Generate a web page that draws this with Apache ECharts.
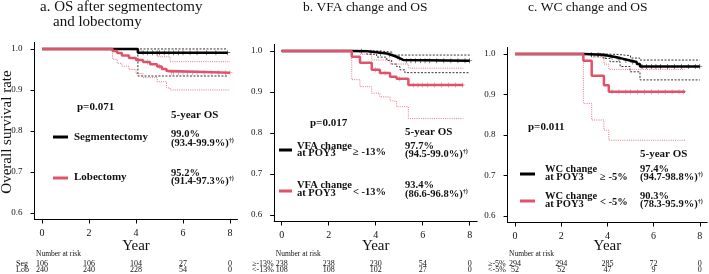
<!DOCTYPE html>
<html>
<head>
<meta charset="utf-8">
<script src="https://cdn.jsdelivr.net/npm/echarts@6/dist/echarts.min.js"></script>
<style>
html, body { margin: 0; padding: 0; background: #fff; }
#main { width: 709px; height: 274px; }
</style>
</head>
<body>
<div id="main"></div>
<script>
var xTicks = [0, 2, 4, 6, 8];
var yTicks = [0.6, 0.7, 0.8, 0.9, 1.0];
var riskYears = [0, 2, 4, 6, 8];

// a. segmentectomy vs lobectomy
var segTime = [0, 4.08, 7.9];
var segSurv = [1, 0.991, 0.991];
var segUpTime = [0, 7.9];
var segUpVal = [1, 1];
var segLoTime = [0, 4.08, 7.9];
var segLoVal = [1, 0.934, 0.934];
var segCens = [4.3, 4.5, 4.7, 4.9, 5.0, 5.2, 5.4, 5.6, 5.8, 6.0, 6.3, 6.6, 7.0, 7.4, 7.9];

var lobTime = [0, 3.0, 3.2, 3.4, 3.7, 4.0, 4.3, 4.6, 4.9, 5.1, 5.3, 5.45, 8.0];
var lobSurv = [1, 0.995, 0.99, 0.984, 0.978, 0.973, 0.968, 0.963, 0.957, 0.951, 0.946, 0.942, 0.942];
var lobUpTime = [0, 3.4, 3.9, 4.3, 4.9, 5.45, 8.0];
var lobUpVal = [1, 0.998, 0.994, 0.989, 0.981, 0.969, 0.969];
var lobLoTime = [0, 3.0, 3.2, 3.4, 3.7, 4.0, 4.3, 4.9, 5.3, 5.45, 8.0];
var lobLoVal = [1, 0.975, 0.965, 0.958, 0.95, 0.94, 0.93, 0.92, 0.905, 0.9, 0.9];
var lobCens = [4.1, 4.5, 5.0, 5.5, 5.6, 5.8, 6.0, 6.2, 6.4, 6.6, 6.9, 7.2, 7.5, 7.8, 8.0];

var segRisk = [106, 106, 104, 27, 0];
var lobRisk = [240, 240, 228, 54, 0];

// b. VFA change
var vfaHiTime = [0, 3.0, 3.69, 4.04, 4.47, 4.68, 4.89, 5.03, 5.17, 8.0];
var vfaHiSurv = [1, 0.999, 0.997, 0.994, 0.99, 0.986, 0.982, 0.978, 0.976, 0.976];
var vfaHiUpTime = [0, 4.2, 4.7, 8.0];
var vfaHiUpVal = [1, 0.997, 0.99, 0.99];
var vfaHiLoTime = [0, 3.62, 4.04, 4.47, 4.68, 4.89, 5.03, 5.24, 8.0];
var vfaHiLoVal = [1, 0.992, 0.985, 0.977, 0.968, 0.962, 0.954, 0.947, 0.947];
var vfaHiCens = [3.4, 3.8, 4.2, 4.6, 5.0, 5.3, 5.5, 5.7, 5.9, 6.1, 6.3, 6.6, 6.9, 7.2, 7.5, 7.8, 8.0];

var vfaLoTime = [0, 2.98, 3.33, 3.83, 4.18, 4.61, 4.89, 5.39, 7.73];
var vfaLoSurv = [1, 0.986, 0.971, 0.954, 0.946, 0.937, 0.932, 0.917, 0.917];
var vfaLoUpTime = [0, 3.33, 3.83, 4.61, 5.39, 7.73];
var vfaLoUpVal = [1, 0.992, 0.978, 0.968, 0.958, 0.958];
var vfaLoLoTime = [0, 2.98, 3.33, 3.83, 4.18, 4.61, 4.89, 5.39, 7.73];
var vfaLoLoVal = [1, 0.93, 0.913, 0.897, 0.888, 0.878, 0.864, 0.835, 0.835];
var vfaLoCens = [4.0, 4.4, 5.0, 5.6, 5.8, 6.0, 6.2, 6.5, 6.8, 7.1, 7.4, 7.7];

var vfaHiRisk = [238, 238, 230, 54, 0];
var vfaLoRisk = [108, 108, 102, 27, 0];

// c. WC change
var wcHiTime = [0, 3.0, 3.53, 3.82, 4.11, 4.4, 4.69, 4.98, 5.27, 5.41, 8.0];
var wcHiSurv = [1, 0.999, 0.998, 0.995, 0.992, 0.988, 0.984, 0.98, 0.975, 0.969, 0.969];
var wcHiUpTime = [0, 3.8, 4.4, 5.0, 5.4, 8.0];
var wcHiUpVal = [1, 0.999, 0.996, 0.99, 0.985, 0.985];
var wcHiLoTime = [0, 3.3, 3.82, 4.11, 4.55, 4.98, 5.41, 8.0];
var wcHiLoVal = [1, 0.995, 0.989, 0.981, 0.969, 0.956, 0.936, 0.936];
var wcHiCens = [3.3, 3.6, 3.9, 4.2, 4.5, 4.8, 5.1, 5.5, 5.7, 5.9, 6.1, 6.3, 6.6, 6.9, 7.2, 7.5, 7.8, 8.0];

var wcLoTime = [0, 2.96, 3.32, 3.85, 4.06, 7.36];
var wcLoSurv = [1, 0.983, 0.946, 0.923, 0.907, 0.907];
var wcLoUpTime = [0, 3.32, 3.85, 4.06, 7.36];
var wcLoUpVal = [1, 0.992, 0.975, 0.962, 0.962];
var wcLoLoTime = [0, 2.96, 3.32, 3.85, 4.06, 7.36];
var wcLoLoVal = [1, 0.878, 0.837, 0.812, 0.787, 0.787];
var wcLoCens = [4.2, 4.5, 4.8, 5.0, 5.3, 5.6, 5.9, 6.2, 6.5, 6.8, 7.1, 7.3];

var wcHiRisk = [294, 294, 285, 72, 0];
var wcLoRisk = [52, 52, 47, 9, 0];

var RED = '#DF536B';
var FONT = '"Liberation Serif", "DejaVu Serif", serif';
var PLUS = 'path://M4.4,0H5.6V4.4H10V5.6H5.6V10H4.4V5.6H0V4.4H4.4Z';

var grids = [
    {left: 34.5, top: 42.4, width: 203, height: 177.1},
    {left: 274.2, top: 44.4, width: 203, height: 177.1},
    {left: 507.6, top: 47.5, width: 199.6, height: 175}
];

function survAt(times, vals, t) {
    var v = vals[0];
    for (let i = 0; i < times.length; i++) {
        if (times[i] <= t) v = vals[i];
    }
    return v;
}

function stepLine(gi, times, vals, color, width, type, z) {
    return {
        type: 'line', xAxisIndex: gi, yAxisIndex: gi, step: 'end', symbol: 'none',
        silent: true, z: z,
        data: times.map((t, i) => [t, vals[i]]),
        lineStyle: {color: color, width: width, type: type}
    };
}

function censor(gi, cens, times, vals, color, z) {
    return {
        type: 'scatter', xAxisIndex: gi, yAxisIndex: gi, symbol: PLUS, symbolSize: 5,
        silent: true, z: z,
        data: cens.map(t => [t, survAt(times, vals, t)]),
        itemStyle: {color: color}
    };
}

function panelSeries(gi, hi, lo) {
    // hi = black group, lo = red group
    return [
        stepLine(gi, hi.upT, hi.upV, '#000', 0.8, [2, 1.5], 2),
        stepLine(gi, hi.loT, hi.loV, '#000', 0.8, [2, 1.5], 2),
        stepLine(gi, lo.upT, lo.upV, RED, 0.8, [1, 1.2], 2),
        stepLine(gi, lo.loT, lo.loV, RED, 0.8, [1, 1.2], 2),
        stepLine(gi, hi.t, hi.s, '#000', 2.5, 'solid', 3),
        censor(gi, hi.c, hi.t, hi.s, '#000', 4),
        stepLine(gi, lo.t, lo.s, RED, 2.5, 'solid', 5),
        censor(gi, lo.c, lo.t, lo.s, RED, 6)
    ];
}

var series = [].concat(
    panelSeries(0,
        {t: segTime, s: segSurv, upT: segUpTime, upV: segUpVal, loT: segLoTime, loV: segLoVal, c: segCens},
        {t: lobTime, s: lobSurv, upT: lobUpTime, upV: lobUpVal, loT: lobLoTime, loV: lobLoVal, c: lobCens}),
    panelSeries(1,
        {t: vfaHiTime, s: vfaHiSurv, upT: vfaHiUpTime, upV: vfaHiUpVal, loT: vfaHiLoTime, loV: vfaHiLoVal, c: vfaHiCens},
        {t: vfaLoTime, s: vfaLoSurv, upT: vfaLoUpTime, upV: vfaLoUpVal, loT: vfaLoLoTime, loV: vfaLoLoVal, c: vfaLoCens}),
    panelSeries(2,
        {t: wcHiTime, s: wcHiSurv, upT: wcHiUpTime, upV: wcHiUpVal, loT: wcHiLoTime, loV: wcHiLoVal, c: wcHiCens},
        {t: wcLoTime, s: wcLoSurv, upT: wcLoUpTime, upV: wcLoUpVal, loT: wcLoLoTime, loV: wcLoLoVal, c: wcLoCens})
);

var chart = echarts.init(document.getElementById('main'));

chart.setOption({
    animation: false,
    grid: grids.map(g => Object.assign({containLabel: false, outerBoundsMode: 'none'}, g)),
    xAxis: grids.map((g, i) => ({
        gridIndex: i, type: 'value', min: -0.32, max: 8.32,
        axisLine: {show: true, onZero: false, lineStyle: {color: '#000', width: 1}},
        axisTick: {show: true, customValues: xTicks, length: 4, lineStyle: {color: '#000'}},
        axisLabel: {customValues: xTicks, margin: 9, fontSize: 10, fontFamily: FONT, color: '#111'},
        splitLine: {show: false}
    })),
    yAxis: grids.map((g, i) => ({
        gridIndex: i, type: 'value', min: 0.584, max: 1.016,
        axisLine: {show: true, onZero: false, lineStyle: {color: '#000', width: 1}},
        axisTick: {show: true, customValues: yTicks, length: 4, lineStyle: {color: '#000'}},
        axisLabel: {
            customValues: yTicks, margin: 12, fontSize: 9, fontFamily: FONT, color: '#111',
            formatter: function (v) { return v.toFixed(1); }
        },
        splitLine: {show: false}
    })),
    series: series
});

function txt(x, y, text, size, bold, align) {
    return {
        type: 'text', x: x, y: y, silent: true,
        style: {
            text: text, fontSize: size, fontFamily: FONT, fontWeight: bold ? 'bold' : 'normal',
            fill: '#111', textAlign: align || 'left', textVerticalAlign: 'middle'
        }
    };
}

function ci(x, y, text) {
    return {
        type: 'text', x: x, y: y, silent: true,
        style: {
            text: '{a|' + text + '}{s|†)}', fill: '#111', textVerticalAlign: 'middle',
            rich: {
                a: {fontSize: 10.5, fontFamily: FONT, fontWeight: 'bold', fill: '#111'},
                s: {fontSize: 6, fontFamily: FONT, fontWeight: 'bold', fill: '#111', verticalAlign: 'top'}
            }
        }
    };
}

function legLine(x1, x2, y, color) {
    return {
        type: 'line', silent: true,
        shape: {x1: x1, y1: y, x2: x2, y2: y},
        style: {stroke: color, lineWidth: 3}
    };
}

var g = [
    // panel a
    txt(40, 7, 'a. OS after segmentectomy', 15),
    txt(53, 22, 'and lobectomy', 15),
    {
        type: 'text', x: 7, y: 132, rotation: Math.PI / 2, silent: true,
        style: {text: 'Overall survival rate', fontSize: 15, fontFamily: FONT, fill: '#111',
            textAlign: 'center', textVerticalAlign: 'middle'}
    },
    txt(77, 107, 'p=0.071', 11, true),
    txt(171, 115, '5-year OS', 11, true),
    legLine(53, 68, 137, '#000'),
    txt(74, 137, 'Segmentectomy', 11, true),
    txt(171, 134, '99.0%', 10.5, true),
    ci(171, 143, '(93.4-99.9%)'),
    legLine(53, 68, 178, RED),
    txt(74, 177, 'Lobectomy', 11, true),
    txt(171, 173, '95.2%', 10.5, true),
    ci(171, 181, '(91.4-97.3%)'),

    // panel b
    txt(303, 7, 'b. VFA change and OS', 13.5),
    txt(310, 123, 'p=0.017', 11, true),
    txt(405, 132, '5-year OS', 11, true),
    legLine(279, 292, 150, '#000'),
    txt(297, 146, 'VFA change', 10.5, true),
    txt(297, 153, 'at POY3', 10.5, true),
    txt(353, 152, '\u2265 -13%', 10.5, true),
    txt(405, 146, '97.7%', 10.5, true),
    ci(405, 154, '(94.5-99.0%)'),
    legLine(279, 292, 191, RED),
    txt(297, 185, 'VFA change', 10.5, true),
    txt(297, 193, 'at POY3', 10.5, true),
    txt(353, 192, '< -13%', 10.5, true),
    txt(405, 185, '93.4%', 10.5, true),
    ci(405, 194, '(86.6-96.8%)'),

    // panel c
    txt(528, 7, 'c. WC change and OS', 13.5),
    txt(528, 127, 'p=0.011', 11, true),
    txt(640, 154, '5-year OS', 11, true),
    legLine(520, 535, 174, '#000'),
    txt(545, 169, 'WC change', 10.5, true),
    txt(545, 177, 'at POY3', 10.5, true),
    txt(600, 177, '\u2265 -5%', 10.5, true),
    txt(640, 169, '97.4%', 10.5, true),
    ci(640, 177, '(94.7-98.8%)'),
    legLine(520, 535, 201, RED),
    txt(545, 196, 'WC change', 10.5, true),
    txt(545, 204, 'at POY3', 10.5, true),
    txt(600, 202, '< -5%', 10.5, true),
    txt(640, 196, '90.3%', 10.5, true),
    ci(640, 204, '(78.3-95.9%)')
];

// axis titles and numbers at risk, placed through each panel's x scale
var riskTables = [
    {rows: [['Seg', segRisk], ['Lob', lobRisk]], labelX: 16},
    {rows: [['\u2265-13%', vfaHiRisk], ['<-13%', vfaLoRisk]], labelX: 252},
    {rows: [['\u2265-5%', wcHiRisk], ['<-5%', wcLoRisk]], labelX: 488}
];
var rowY = [264, 270];

riskTables.forEach(function (tbl, gi) {
    var x0 = chart.convertToPixel({xAxisIndex: gi}, 0);
    var x4 = chart.convertToPixel({xAxisIndex: gi}, 4);
    g.push(txt(x4, 246, 'Year', 15, false, 'center'));
    g.push(txt(x0 - 6, 254, 'Number at risk', 7.5));
    tbl.rows.forEach(function (row, r) {
        g.push(txt(tbl.labelX, rowY[r], row[0], 8));
        riskYears.forEach(function (yr, k) {
            var px = chart.convertToPixel({xAxisIndex: gi}, yr);
            g.push(txt(px, rowY[r], String(row[1][k]), 8, false, 'center'));
        });
    });
});

chart.setOption({graphic: g});
</script>
</body>
</html>
